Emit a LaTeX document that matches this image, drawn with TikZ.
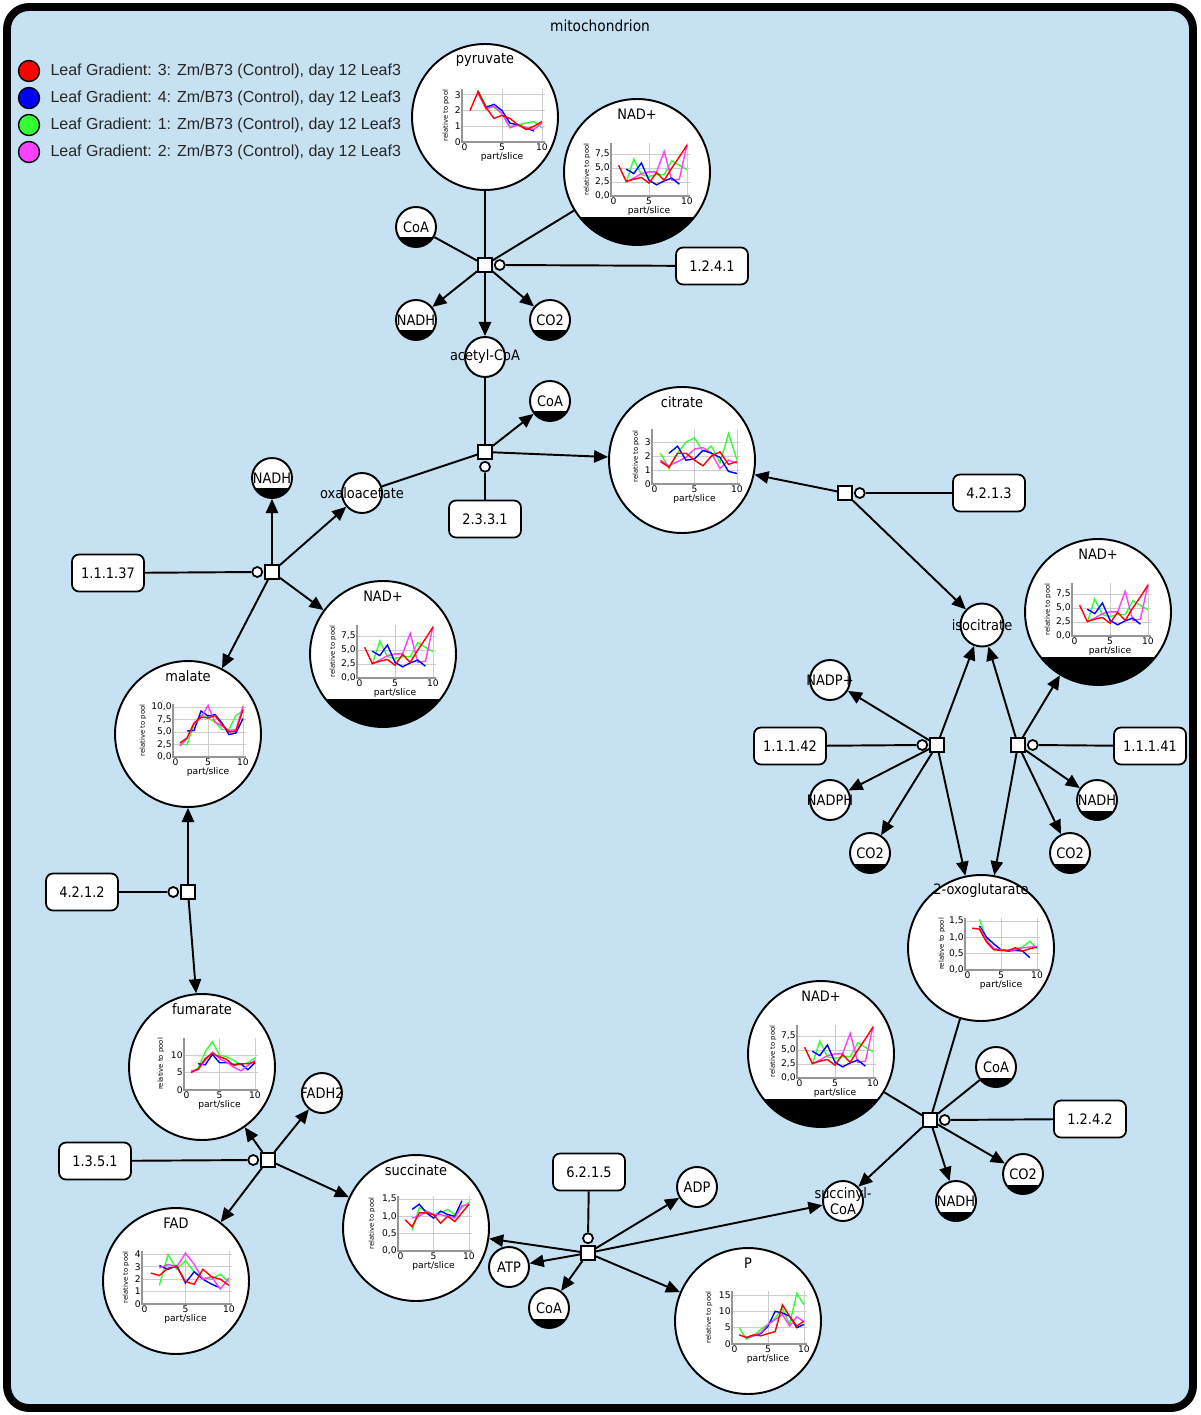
\documentclass[tikz,border=0pt]{standalone}
\usepackage{fontspec}
\setmainfont{Liberation Sans}
\newfontfamily\labfam[FakeStretch=0.9]{DejaVu Sans}
\newfontfamily\plotfam{DejaVu Sans}
\usetikzlibrary{arrows.meta,positioning}

\definecolor{mitoblue}{RGB}{198,226,242}
\definecolor{serred}{RGB}{255,0,0}
\definecolor{serblue}{RGB}{0,0,255}
\definecolor{sergreen}{RGB}{51,255,51}
\definecolor{sermag}{RGB}{255,64,255}
\definecolor{gridgray}{RGB}{205,205,205}
\definecolor{axisgray}{RGB}{150,150,150}

\newcommand{\labfont}{\labfam\fontsize{8.2}{9}\selectfont}
\newcommand{\tickfont}{\plotfam\fontsize{5.2}{5.5}\selectfont}
\newcommand{\ylabfont}{\plotfam\fontsize{3.9}{4.2}\selectfont}

% one data line of a small chart
\newcommand{\dataline}[2]{\draw[serline, #1] plot coordinates {#2};}

% small chart inside a metabolite circle
% #1 node, #2/#3 origin offset (px), #4/#5 units (cm), #6 top, #7 ticks, #8 y label shift (cm), #9 lines
\newcommand{\minichart}[9]{%
  \begin{scope}[shift={(#1.center)}, shift={(#2,#3)}, x=#4cm, y=#5cm]
    \foreach \tval/\tlab [count=\i] in {#7} {
      \draw[gridln] (0,\tval) -- (10.4,\tval);
      \node[ytick] (#1-yt\i) at (0,\tval) {\tlab};
    }
    \draw[gridln] (5,0) -- (5,#6) (10,0) -- (10,#6);
    \draw[axisln] (0,#6) -- (0,0) -- (10.4,0);
    \node[xtick, xshift=0.05cm] (#1-xt0) at (0,0) {0};
    \node[xtick] (#1-xt5) at (5,0) {5};
    \node[xtick] (#1-xt10) at (10,0) {10};
    \node[xlab] (#1-xl) at (5,0) {part/slice};
    \node[xshift=#8cm, ylab] (#1-yl) at (0,#6/2) {relative to pool};
    #9
  \end{scope}}

\newcommand{\nadlines}{%
  \dataline{sergreen}{(2,2.4) (3,6.6) (4,3.8) (5,3.5) (6,3.8) (7,3.8) (8,6.3) (9,5.5) (10,4.7)}%
  \dataline{sermag}{(2,2.5) (3,3.2) (4,4.0) (5,4.3) (6,4.3) (7,8.0) (8,2.8) (9,3.0) (10,9.2)}%
  \dataline{serblue}{(2,4.8) (3,4.0) (4,5.9) (5,2.8) (6,2.0) (7,2.7) (8,3.2) (9,2.1)}%
  \dataline{serred}{(1,5.5) (2,2.6) (3,3.0) (4,3.3) (5,2.3) (6,4.2) (7,2.8) (8,5.0) (9,7.0) (10,9.1)}}

\begin{document}
\begin{tikzpicture}[x=0.02cm, y=-0.02cm,
  met/.style={circle, draw, fill=white, line width=1.1pt, minimum size=0.8cm, inner sep=0pt},
  bigmet/.style={circle, draw, fill=white, line width=1.1pt, minimum size=2.92cm, inner sep=0pt},
  tag/.style={label={[font=\labfont, inner sep=0pt, align=center]center:#1}},
  head/.style={label={[font=\labfont, inner sep=0pt, yshift=1.15cm]center:#1}},
  cof/.style={path picture={\fill[black] (path picture bounding box.south west) rectangle ([yshift=#1]path picture bounding box.south east);}},
  cof/.default=0.19cm,
  rxn/.style={draw, fill=white, line width=1pt, minimum size=0.28cm, inner sep=0pt},
  cat/.style={circle, draw, fill=white, line width=1pt, minimum size=0.2cm, inner sep=0pt},
  enz/.style={draw, fill=white, rounded corners=0.14cm, line width=1pt, minimum width=1.44cm, minimum height=0.74cm, font=\labfont},
  conn/.style={line width=1.1pt},
  arr/.style={conn, -{Triangle[length=8pt, width=7pt]}},
  gridln/.style={gridgray, line width=0.5pt},
  axisln/.style={axisgray, line width=0.6pt},
  ytick/.style={anchor=east, inner sep=0.6pt, font=\tickfont},
  xtick/.style={anchor=north, inner sep=0.6pt, font=\tickfont},
  xlab/.style={anchor=north, inner sep=0pt, yshift=-0.2cm, font=\tickfont},
  ylab/.style={rotate=90, inner sep=0pt, font=\ylabfont},
  serline/.style={line width=0.8pt, mark=square*, mark size=0.5pt},
  legdot/.style={circle, draw, line width=0.8pt, minimum size=0.42cm, inner sep=0pt},
  legtext/.style={inner sep=0pt, font=\fontsize{9.1}{10}\selectfont, text=black!85},
]
\fill[white] (0,0) rectangle (1200,1415);
\draw[line width=4.5pt, fill=mitoblue, rounded corners=0.44cm] (7,7) rectangle (1193,1408);
\useasboundingbox (0,0) rectangle (1200,1415);

\node[font=\labfam\fontsize{8.7}{9}\selectfont] (title) at (600,26) {mitochondrion};

% legend
\foreach \c/\num [count=\i] in {serred/3, serblue/4, sergreen/1, sermag/2} {
  \node[legdot, fill=\c] (leg\i) at (29, 44+27*\i) {};
  \node[legtext, right=0.2cm of leg\i] (legt\i) {Leaf Gradient: \num: Zm/B73 (Control), day 12 Leaf3};
}

% metabolites with charts
\node[bigmet, head=pyruvate] (pyr) at (485,117) {};
\node[bigmet, cof=0.56cm, head=NAD+] (nad1) at (637,172) {};
\node[bigmet, head=citrate] (cit) at (682,460) {};
\node[bigmet, cof=0.56cm, head=NAD+] (nad2) at (383,654) {};
\node[bigmet, cof=0.56cm, head=NAD+] (nad3) at (1098,612) {};
\node[bigmet, head=malate] (mal) at (188,734) {};
\node[bigmet, head=2-oxoglutarate] (oxo) at (981,948) {};
\node[bigmet, cof=0.56cm, head=NAD+] (nad4) at (821,1054) {};
\node[bigmet, head=fumarate] (fum) at (202,1067) {};
\node[bigmet, head=FAD] (fad) at (176,1281) {};
\node[bigmet, head=succinate] (suc) at (416,1228) {};
\node[bigmet, head=P] (p) at (748,1321) {};

% small metabolites
\node[met, cof, tag=CoA] (coa1) at (416,227) {};
\node[met, cof, tag=NADH] (nadh1) at (416,320) {};
\node[met, cof, tag=CO2] (co2a) at (550,320) {};
\node[met, tag=acetyl-CoA] (acoa) at (485,357) {};
\node[met, cof, tag=CoA] (coa2) at (550,401) {};
\node[met, cof, tag=NADH] (nadh2) at (272,478) {};
\node[met, tag=oxaloacetate] (oxa) at (362,493) {};
\node[met, minimum size=0.86cm, tag=isocitrate] (icit) at (982,625) {};
\node[met, tag=NADP+] (nadpp) at (830,680) {};
\node[met, tag=NADPH] (nadph) at (830,800) {};
\node[met, cof, tag=CO2] (co2b) at (870,853) {};
\node[met, cof, tag=NADH] (nadh3) at (1097,800) {};
\node[met, cof, tag=CO2] (co2c) at (1070,853) {};
\node[met, cof, tag=CoA] (coa3) at (996,1067) {};
\node[met, cof, tag=CO2] (co2d) at (1023,1174) {};
\node[met, cof, tag=NADH] (nadh4) at (956,1201) {};
\node[met, tag={succinyl-\\CoA}] (sucoa) at (843,1201) {};
\node[met, tag=FADH2] (fadh2) at (322,1093) {};
\node[met, tag=ADP] (adp) at (697,1187) {};
\node[met, tag=ATP] (atp) at (509,1267) {};
\node[met, cof, tag=CoA] (coa4) at (549,1308) {};

% reactions, modifiers, enzymes
\node[rxn] (r1) at (485,265) {};
\node[cat, right=0.02cm of r1] (c1) {};
\node[enz] (e1241) at (712,266) {1.2.4.1};
\node[rxn] (r2) at (485,452) {};
\node[cat, below=0.02cm of r2] (c2) {};
\node[enz] (e2331) at (485,519) {2.3.3.1};
\node[rxn] (r3) at (845,493) {};
\node[cat, right=0.02cm of r3] (c3) {};
\node[enz] (e4213) at (989,493) {4.2.1.3};
\node[rxn] (r4) at (272,572) {};
\node[cat, left=0.02cm of r4] (c4) {};
\node[enz] (e11137) at (108,573) {1.1.1.37};
\node[rxn] (r5) at (937,745) {};
\node[cat, left=0.02cm of r5] (c5) {};
\node[enz] (e11142) at (790,746) {1.1.1.42};
\node[rxn] (r6) at (1018,745) {};
\node[cat, right=0.02cm of r6] (c6) {};
\node[enz] (e11141) at (1150,746) {1.1.1.41};
\node[rxn] (r7) at (188,892) {};
\node[cat, left=0.02cm of r7] (c7) {};
\node[enz] (e4212) at (82,892) {4.2.1.2};
\node[rxn] (r8) at (268,1160) {};
\node[cat, left=0.02cm of r8] (c8) {};
\node[enz] (e1351) at (95,1161) {1.3.5.1};
\node[rxn] (r9) at (930,1120) {};
\node[cat, right=0.02cm of r9] (c9) {};
\node[enz] (e1242) at (1090,1119) {1.2.4.2};
\node[rxn] (r10) at (588,1253) {};
\node[cat, above=0.02cm of r10] (c10) {};
\node[enz] (e6215) at (589,1172) {6.2.1.5};

% charts
\minichart{pyr}{-23}{25}{0.16}{0.314}{3.35}{0/0,1/1,2/2,3/3}{-0.32}{%
  \dataline{sergreen}{(2,3.3) (3,2.3) (4,2.2) (5,1.8) (6,1.0) (7,1.1) (8,1.2) (9,1.3) (10,0.9)}
  \dataline{serblue}{(2,3.2) (3,2.2) (4,2.4) (5,2.0) (6,1.2) (7,1.1) (8,0.9) (9,0.7)}
  \dataline{sermag}{(2,3.1) (3,2.1) (4,2.3) (5,1.8) (6,0.9) (7,1.1) (8,0.9) (9,0.8) (10,1.2)}
  \dataline{serred}{(1,2.0) (2,3.2) (3,2.2) (4,1.5) (5,1.7) (6,1.5) (7,1.1) (8,0.8) (9,1.0) (10,1.3)}}
\minichart{nad1}{-26}{24}{0.152}{0.112}{9.5}{0/{0,0},2.5/{2,5},5/{5,0},7.5/{7,5}}{-0.48}{\nadlines}
\minichart{nad2}{-26}{24}{0.152}{0.112}{9.5}{0/{0,0},2.5/{2,5},5/{5,0},7.5/{7,5}}{-0.48}{\nadlines}
\minichart{nad3}{-26}{24}{0.152}{0.112}{9.5}{0/{0,0},2.5/{2,5},5/{5,0},7.5/{7,5}}{-0.48}{\nadlines}
\minichart{nad4}{-24}{24}{0.152}{0.112}{9.5}{0/{0,0},2.5/{2,5},5/{5,0},7.5/{7,5}}{-0.48}{\nadlines}
\minichart{cit}{-30}{24}{0.17}{0.28}{3.9}{0/0,1/1,2/2,3/3}{-0.32}{%
  \dataline{sergreen}{(1,2.2) (2,1.1) (3,2.2) (4,3.0) (5,3.3) (6,2.3) (7,2.7) (8,1.5) (9,3.6) (10,1.7)}
  \dataline{sermag}{(1,1.7) (2,1.3) (3,1.6) (4,1.9) (5,2.5) (6,2.6) (7,2.2) (8,1.1) (9,1.7) (10,1.5)}
  \dataline{serblue}{(2,2.2) (3,2.7) (4,1.7) (5,1.8) (6,2.4) (7,2.2) (8,1.9) (9,0.9) (10,0.75)}
  \dataline{serred}{(1,1.6) (2,1.2) (3,2.2) (4,2.2) (5,1.7) (6,1.3) (7,2.0) (8,2.3) (9,1.4) (10,1.6)}}
\minichart{mal}{-15}{23}{0.14}{0.1}{10.6}{0/{0,0},2.5/{2,5},5/{5,0},7.5/{7,5},10/{10,0}}{-0.6}{%
  \dataline{sergreen}{(1,2.5) (2,2.5) (3,6.5) (4,8.5) (5,7.8) (6,7.0) (7,5.5) (8,5.5) (9,8.3) (10,9.2)}
  \dataline{serblue}{(2,5.2) (3,5.3) (4,9.2) (5,8.2) (6,8.5) (7,6.8) (8,4.5) (9,4.8) (10,7.7)}
  \dataline{sermag}{(1,2.2) (2,3.7) (3,6.6) (4,7.9) (5,10.3) (6,7.0) (7,6.2) (8,5.3) (9,5.5) (10,10.2)}
  \dataline{serred}{(1,2.8) (2,3.8) (3,6.8) (4,8.0) (5,7.8) (6,8.3) (7,6.5) (8,5.0) (9,5.2) (10,9.5)}}
\minichart{oxo}{-16}{22}{0.144}{0.654}{1.6}{0/{0,0},0.5/{0,5},1/{1,0},1.5/{1,5}}{-0.46}{%
  \dataline{sergreen}{(2,1.55) (3,0.95) (4,0.65) (5,0.6) (6,0.58) (7,0.65) (8,0.7) (9,0.88) (10,0.65)}
  \dataline{serblue}{(2,1.35) (3,1.0) (4,0.8) (5,0.62) (6,0.58) (7,0.6) (8,0.58) (9,0.38)}
  \dataline{sermag}{(2,1.3) (3,0.9) (4,0.65) (5,0.62) (6,0.6) (7,0.62) (8,0.68) (9,0.7) (10,0.72)}
  \dataline{serred}{(1,1.28) (2,1.25) (3,0.85) (4,0.62) (5,0.6) (6,0.6) (7,0.68) (8,0.58) (9,0.65) (10,0.7)}}
\minichart{fum}{-18}{23}{0.142}{0.07}{14.9}{0/0,5/5,10/10}{-0.46}{%
  \dataline{sergreen}{(1,5.2) (2,6.2) (3,11) (4,13.8) (5,10) (6,9.5) (7,8.5) (8,7.2) (9,7.8) (10,9.2)}
  \dataline{serblue}{(2,7.5) (3,7.2) (4,10.2) (5,7.8) (6,7.8) (7,7.3) (8,7.5) (9,5.8) (10,7.8)}
  \dataline{sermag}{(1,5.5) (2,5.8) (3,8.5) (4,10.8) (5,9) (6,8) (7,6.5) (8,5.5) (9,7.0) (10,8.5)}
  \dataline{serred}{(1,5) (2,6) (3,9) (4,10.5) (5,9.5) (6,8.8) (7,7) (8,7.5) (9,7.5) (10,8)}}
\minichart{fad}{-34}{23}{0.174}{0.248}{4.3}{0/0,1/1,2/2,3/3,4/4}{-0.32}{%
  \dataline{sergreen}{(2,1.5) (3,4.0) (4,2.8) (5,3.5) (6,2.6) (7,2.1) (8,2.0) (9,2.4) (10,1.8)}
  \dataline{serblue}{(2,3.1) (3,2.8) (4,3.1) (5,1.7) (6,2.6) (7,2.0) (8,1.6) (9,1.3)}
  \dataline{sermag}{(2,2.9) (3,3.2) (4,3.0) (5,4.1) (6,3.2) (7,2.0) (8,2.2) (9,1.2) (10,2.1)}
  \dataline{serred}{(1,2.5) (2,2.3) (3,2.9) (4,3.0) (5,1.8) (6,1.6) (7,2.8) (8,2.2) (9,2.0) (10,1.5)}}
\minichart{suc}{-18}{23}{0.142}{0.694}{1.6}{0/{0,0},0.5/{0,5},1/{1,0},1.5/{1,5}}{-0.52}{%
  \dataline{sergreen}{(2,0.6) (3,1.25) (4,1.15) (5,1.05) (6,1.1) (7,1.2) (8,1.05) (9,1.25) (10,1.4)}
  \dataline{serblue}{(2,1.2) (3,1.35) (4,1.1) (5,0.95) (6,1.15) (7,1.05) (8,1.0) (9,1.45)}
  \dataline{sermag}{(2,0.95) (3,1.0) (4,1.15) (5,1.05) (6,1.05) (7,1.0) (8,0.95) (9,1.3) (10,1.35)}
  \dataline{serred}{(1,0.9) (2,0.7) (3,1.1) (4,1.1) (5,1.05) (6,0.8) (7,1.0) (8,0.85) (9,1.1) (10,1.35)}}
\minichart{p}{-16}{23}{0.144}{0.0654}{16.3}{0/0,5/5,10/10,15/15}{-0.46}{%
  \dataline{sergreen}{(1,5) (2,1.5) (3,2.5) (4,4.5) (5,6) (6,8) (7,11) (8,6) (9,15.5) (10,12)}
  \dataline{serblue}{(2,2) (3,2.5) (4,3.2) (5,5.5) (6,10) (7,9.5) (8,8.5) (9,5) (10,6)}
  \dataline{sermag}{(2,2.0) (3,2.5) (4,3.5) (5,6) (6,7.5) (7,9) (8,5.5) (9,8.3) (10,6.8)}
  \dataline{serred}{(1,2.8) (2,2.0) (3,2.8) (4,2.5) (5,3.2) (6,3.8) (7,12) (8,8.5) (9,5.5) (10,7)}}

% 1.2.4.1
\draw[conn] (pyr) -- (r1);
\draw[conn] (coa1) -- (r1);
\draw[conn] (nad1) -- (r1);
\draw[arr] (r1) -- (nadh1);
\draw[arr] (r1) -- (co2a);
\draw[arr] (r1) -- (acoa);
\draw[conn] (c1) -- (e1241);
% 2.3.3.1
\draw[conn] (acoa) -- (r2);
\draw[conn] (oxa) -- (r2);
\draw[arr] (r2) -- (coa2);
\draw[arr] (r2) -- (cit);
\draw[conn] (c2) -- (e2331);
% 4.2.1.3
\draw[arr] (r3) -- (cit);
\draw[arr] (r3) -- (icit);
\draw[conn] (c3) -- (e4213);
% 1.1.1.37
\draw[arr] (r4) -- (oxa);
\draw[arr] (r4) -- (nadh2);
\draw[arr] (r4) -- (nad2);
\draw[arr] (r4) -- (mal);
\draw[conn] (c4) -- (e11137);
% 1.1.1.42
\draw[arr] (r5) -- (icit);
\draw[arr] (r5) -- (nadpp);
\draw[arr] (r5) -- (nadph);
\draw[arr] (r5) -- (co2b);
\draw[arr] (r5) -- (oxo);
\draw[conn] (c5) -- (e11142);
% 1.1.1.41
\draw[arr] (r6) -- (icit);
\draw[arr] (r6) -- (nad3);
\draw[arr] (r6) -- (nadh3);
\draw[arr] (r6) -- (co2c);
\draw[arr] (r6) -- (oxo);
\draw[conn] (c6) -- (e11141);
% 4.2.1.2
\draw[arr] (r7) -- (mal);
\draw[arr] (r7) -- (fum);
\draw[conn] (c7) -- (e4212);
% 1.3.5.1
\draw[arr] (r8) -- (fum);
\draw[arr] (r8) -- (fadh2);
\draw[arr] (r8) -- (fad);
\draw[arr] (r8) -- (suc);
\draw[conn] (c8) -- (e1351);
% 1.2.4.2
\draw[conn] (oxo) -- (r9);
\draw[conn] (nad4) -- (r9);
\draw[conn] (coa3) -- (r9);
\draw[arr] (r9) -- (sucoa);
\draw[arr] (r9) -- (nadh4);
\draw[arr] (r9) -- (co2d);
\draw[conn] (c9) -- (e1242);
% 6.2.1.5
\draw[arr] (r10) -- (suc);
\draw[arr] (r10) -- (atp);
\draw[arr] (r10) -- (coa4);
\draw[arr] (r10) -- (adp);
\draw[arr] (r10) -- (sucoa);
\draw[arr] (r10) -- (p);
\draw[conn] (c10) -- (e6215);
\end{tikzpicture}
\end{document}
